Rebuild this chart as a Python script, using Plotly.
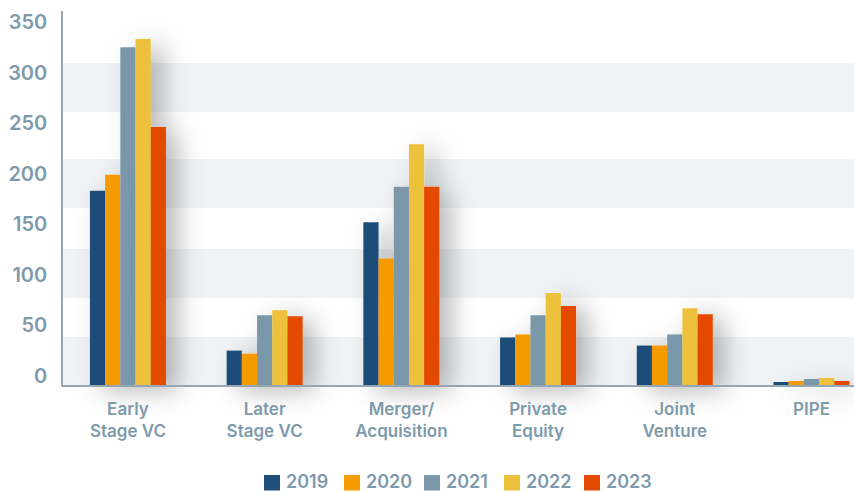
import plotly.graph_objects as go

# Deal counts by deal type and year
categories = ["Early<br>Stage VC", "Later<br>Stage VC", "Merger/<br>Acquisition",
              "Private<br>Equity", "Joint<br>Venture", "PIPE"]
years = ["2019", "2020", "2021", "2022", "2023"]
deals_2019 = [192, 34, 161, 47, 39, 3]
deals_2020 = [208, 31, 125, 50, 39, 4]
deals_2021 = [334, 69, 196, 69, 50, 6]
deals_2022 = [342, 74, 238, 91, 76, 7]
deals_2023 = [255, 68, 196, 78, 70, 4]
series = [deals_2019, deals_2020, deals_2021, deals_2022, deals_2023]
y_ticks = [0, 50, 100, 150, 200, 250, 300, 350]

colors = ["#1f4e79", "#f59b00", "#7a98aa", "#edc13b", "#e44a00"]
text_color = "#7e9aab"
axis_color = "#94a7b3"
band_color = "#f0f3f5"
font_family = "Inter, Roboto, Arial, sans-serif"
font_weight = 600

W, H = 854, 492
M_L, M_R, M_T, M_B = 63, 0, 11, 107
plot_w = W - M_L - M_R
plot_h = H - M_T - M_B


def px_to_paper_x(px):
    return (px - M_L) / plot_w


def px_to_paper_y(py):
    return (H - M_B - py) / plot_h


fig = go.Figure()
for name, vals, col in zip(years, series, colors):
    fig.add_trace(go.Bar(x=categories, y=vals, name=name, marker_color=col,
                         marker_line_width=0, showlegend=False))

# alternating background bands
bands = [(0, 47.5), (86, 134.5), (175, 223.5), (270, 318.5)]
for y0, y1 in bands:
    fig.add_shape(type="rect", xref="paper", x0=0, x1=1, yref="y", y0=y0, y1=y1,
                  fillcolor=band_color, line_width=0, layer="below")

# legend row under the chart: square swatch + year label
legend_left, legend_step = 264, 80
for i, (name, col) in enumerate(zip(years, colors)):
    x0 = legend_left + legend_step * i
    fig.add_shape(type="rect", xref="paper", yref="paper",
                  x0=px_to_paper_x(x0), x1=px_to_paper_x(x0 + 16),
                  y0=px_to_paper_y(490.5), y1=px_to_paper_y(475),
                  fillcolor=col, line_width=0)
    fig.add_annotation(text=name, xref="paper", yref="paper",
                       x=px_to_paper_x(x0 + 20), y=px_to_paper_y(481.5),
                       xanchor="left", yanchor="middle", showarrow=False,
                       font=dict(size=18, color=text_color, weight=font_weight))

fig.update_layout(
    width=W, height=H,
    margin=dict(l=M_L, r=M_R, t=M_T, b=M_B, autoexpand=False),
    paper_bgcolor="white", plot_bgcolor="white",
    barmode="group", bargap=0.444, bargroupgap=0,
    font=dict(family=font_family, color=text_color),
    showlegend=False,
)
fig.update_xaxes(type="category", range=[-0.475, 5.311], showgrid=False,
                 showline=True, linecolor=axis_color, linewidth=1.5,
                 ticks="", ticklabelstandoff=8,
                 tickfont=dict(size=17, color=text_color, weight=font_weight),
                 fixedrange=True)
fig.update_yaxes(range=[0, 369.8], tickvals=y_ticks, showgrid=False, zeroline=False,
                 showline=True, linecolor=axis_color, linewidth=1.5,
                 ticks="", ticklabelshift=-9, ticklabelstandoff=10,
                 tickfont=dict(size=20, color=text_color, weight=font_weight),
                 fixedrange=True)

# soft drop shadow behind the bar groups (SVG filter)
shadow_js = """
var gd = document.getElementById('{plot_id}');
var svg = gd.querySelector('svg.main-svg');
var ns = 'http://www.w3.org/2000/svg';
var defs = svg.querySelector('defs');
if (!defs) { defs = document.createElementNS(ns, 'defs'); svg.insertBefore(defs, svg.firstChild); }
var f = document.createElementNS(ns, 'filter');
f.setAttribute('id', 'barShadow');
f.setAttribute('x', '-50%'); f.setAttribute('y', '-50%');
f.setAttribute('width', '200%'); f.setAttribute('height', '200%');
var ds = document.createElementNS(ns, 'feDropShadow');
ds.setAttribute('dx', '12'); ds.setAttribute('dy', '6');
ds.setAttribute('stdDeviation', '12');
ds.setAttribute('flood-color', '#000'); ds.setAttribute('flood-opacity', '0.28');
f.appendChild(ds);
defs.appendChild(f);
gd.querySelectorAll('.barlayer').forEach(function(layer){
  if (layer.parentNode && layer.parentNode.removeAttribute) { layer.parentNode.removeAttribute('clip-path'); }
  layer.setAttribute('filter', 'url(#barShadow)');
});
"""

fig.write_html("out.html", post_script=shadow_js, config={"displayModeBar": False})
